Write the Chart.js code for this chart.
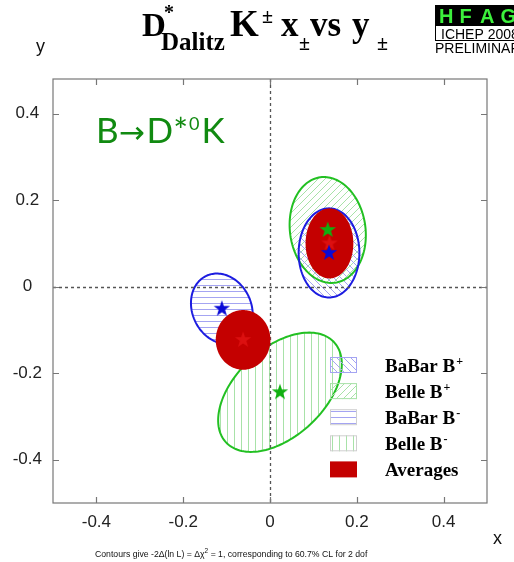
<!DOCTYPE html>
<html>
<head>
<meta charset="utf-8">
<script src="https://cdn.jsdelivr.net/npm/chart.js@4.4.1/dist/chart.umd.min.js"></script>
<style>
  html, body { margin: 0; padding: 0; background: #fff; }
  #wrap { position: relative; width: 514px; height: 562px; }
</style>
</head>
<body>
<div id="wrap"><canvas id="xy-plane" width="514" height="562"></canvas></div>
<script>
'use strict';

// axis ranges and ticks
const xRange = [-0.5, 0.5];
const yRange = [-0.5, 0.48];
const xTickValues = [-0.4, -0.2, 0, 0.2, 0.4];
const yTickValues = [-0.4, -0.2, 0, 0.2, 0.4];

// individual measurements (1-sigma contours): centre, semi-axes, rotation in degrees
const measNames = ['BaBar B+', 'Belle B+', 'BaBar B-', 'Belle B-'];
const measX = [0.136, 0.133, -0.111, 0.023];
const measY = [0.078, 0.131, -0.051, -0.244];
const measA = [0.070, 0.087, 0.068, 0.170];
const measB = [0.103, 0.123, 0.084, 0.102];
const measTilt = [0, 8, 25, 43];

// averages for B+ and B-
const avgX = [0.137, -0.062];
const avgY = [0.100, -0.123];
const avgA = [0.055, 0.063];
const avgB = [0.081, 0.069];
const avgTilt = [0, 0];

// legend rows
const legendLabels = ['BaBar B', 'Belle B', 'BaBar B', 'Belle B', 'Averages'];
const legendSups = ['+', '+', '-', '-', ''];

const BLUE = '#1c1ce0';
const GREEN = '#22c022';
const BLUE_HATCH = '#a4a4f2';
const GREEN_HATCH = '#a8e2a8';
const RED = '#c40000';

// hatch style per measurement
const hatchKind = ['back', 'fwd', 'horiz', 'vert'];
const hatchColor = [BLUE_HATCH, GREEN_HATCH, BLUE_HATCH, GREEN_HATCH];
const lineColor = [BLUE, GREEN, BLUE, GREEN];

function makeHatch(ctx, kind, color) {
    const step = (kind === 'horiz') ? 6 : 7;
    const c = document.createElement('canvas');
    c.width = step; c.height = step;
    const g = c.getContext('2d');
    g.strokeStyle = color;
    g.lineWidth = 1;
    g.beginPath();
    if (kind === 'horiz') {
        g.moveTo(0, 3.5); g.lineTo(step, 3.5);
    } else if (kind === 'vert') {
        g.moveTo(3.5, 0); g.lineTo(3.5, step);
    } else if (kind === 'fwd') {
        g.moveTo(-1, step + 1); g.lineTo(step + 1, -1);
        g.moveTo(-1, 1); g.lineTo(1, -1);
        g.moveTo(step - 1, step + 1); g.lineTo(step + 1, step - 1);
    } else {
        g.moveTo(-1, -1); g.lineTo(step + 1, step + 1);
        g.moveTo(step - 1, -1); g.lineTo(step + 1, 1);
        g.moveTo(-1, step - 1); g.lineTo(1, step + 1);
    }
    g.stroke();
    return ctx.createPattern(c, 'repeat');
}

function makeStar(color) {
    const c = document.createElement('canvas');
    c.width = 20; c.height = 20;
    const g = c.getContext('2d');
    g.fillStyle = color;
    g.beginPath();
    for (let i = 0; i < 10; i++) {
        const r = (i % 2) ? 3.4 : 8.6;
        const ang = -Math.PI / 2 + i * Math.PI / 5;
        const px = 10 + r * Math.cos(ang), py = 10 + r * Math.sin(ang);
        i ? g.lineTo(px, py) : g.moveTo(px, py);
    }
    g.closePath();
    g.fill();
    return c;
}

function ellipsePath(ctx, xs, ys, cx, cy, a, b, deg) {
    const th = deg * Math.PI / 180;
    ctx.beginPath();
    for (let i = 0; i <= 144; i++) {
        const t = i / 144 * 2 * Math.PI;
        const dx = a * Math.cos(t) * Math.cos(th) - b * Math.sin(t) * Math.sin(th);
        const dy = a * Math.cos(t) * Math.sin(th) + b * Math.sin(t) * Math.cos(th);
        const px = xs.getPixelForValue(cx + dx);
        const py = ys.getPixelForValue(cy + dy);
        i ? ctx.lineTo(px, py) : ctx.moveTo(px, py);
    }
    ctx.closePath();
}

function txt(ctx, s, x, y, font, color, align) {
    ctx.font = font;
    ctx.fillStyle = color || '#000';
    ctx.textAlign = align || 'left';
    ctx.textBaseline = 'alphabetic';
    ctx.fillText(s, x, y);
    return x + ctx.measureText(s).width;
}

const contours = {
    id: 'contours',
    beforeDatasetsDraw(chart) {
        const { ctx, chartArea: area, scales: { x, y } } = chart;
        ctx.save();
        ctx.beginPath();
        ctx.rect(area.left, area.top, area.right - area.left, area.bottom - area.top);
        ctx.clip();

        // hatched measurements, B- first
        [3, 2, 1, 0].forEach(i => {
            ellipsePath(ctx, x, y, measX[i], measY[i], measA[i], measB[i], measTilt[i]);
            ctx.fillStyle = makeHatch(ctx, hatchKind[i], hatchColor[i]);
            ctx.fill();
        });
        [3, 2, 1, 0].forEach(i => {
            ellipsePath(ctx, x, y, measX[i], measY[i], measA[i], measB[i], measTilt[i]);
            ctx.strokeStyle = lineColor[i];
            ctx.lineWidth = 2;
            ctx.stroke();
        });

        // dashed zero lines
        ctx.strokeStyle = '#555';
        ctx.lineWidth = 1.3;
        ctx.setLineDash([3, 3]);
        const x0 = Math.round(x.getPixelForValue(0)) + 0.5;
        const y0 = Math.round(y.getPixelForValue(0)) + 0.5;
        ctx.beginPath();
        ctx.moveTo(x0, area.top); ctx.lineTo(x0, area.bottom);
        ctx.moveTo(area.left, y0); ctx.lineTo(area.right, y0);
        ctx.stroke();
        ctx.setLineDash([]);

        // averages
        avgX.forEach((cx, i) => {
            ellipsePath(ctx, x, y, cx, avgY[i], avgA[i], avgB[i], avgTilt[i]);
            ctx.fillStyle = RED;
            ctx.fill();
        });
        ctx.restore();
    },
    afterDraw(chart) {
        const { ctx, chartArea: area, scales: { x, y } } = chart;
        ctx.save();

        // frame with inward ticks
        ctx.strokeStyle = '#777';
        ctx.lineWidth = 1.2;
        ctx.strokeRect(area.left, area.top, area.right - area.left, area.bottom - area.top);
        ctx.beginPath();
        xTickValues.forEach(v => {
            const px = Math.round(x.getPixelForValue(v)) + 0.5;
            ctx.moveTo(px, area.bottom); ctx.lineTo(px, area.bottom - 6);
            ctx.moveTo(px, area.top); ctx.lineTo(px, area.top + 6);
        });
        yTickValues.forEach(v => {
            const py = Math.round(y.getPixelForValue(v)) + 0.5;
            ctx.moveTo(area.left, py); ctx.lineTo(area.left + 6, py);
            ctx.moveTo(area.right, py); ctx.lineTo(area.right - 6, py);
        });
        ctx.stroke();

        // legend
        const boxX = 330, boxW = 27, boxH = 16;
        legendLabels.forEach((label, i) => {
            const top = 357 + i * 26.1;
            if (i < 4) {
                ctx.fillStyle = makeHatch(ctx, hatchKind[i], hatchColor[i]);
                ctx.fillRect(boxX, top, boxW, boxH);
                ctx.strokeStyle = i < 2 ? hatchColor[i] : '#cfcfcf';
                ctx.lineWidth = 1;
                ctx.strokeRect(boxX + 0.5, top + 0.5, boxW - 1, boxH - 1);
            } else {
                ctx.fillStyle = RED;
                ctx.fillRect(boxX, top, boxW, boxH);
            }
            const end = txt(ctx, label, 385, top + 14.5, 'bold 19px "Liberation Serif"', '#000');
            if (legendSups[i]) txt(ctx, legendSups[i], end + 1, top + 8, 'bold 12px "Liberation Serif"', '#000');
        });

        // decay label
        const green = '#118a11';
        let cx = txt(ctx, 'B', 96, 143, '35px Lato', green);
        cx = txt(ctx, '\u2192', cx, 143, '31px "DejaVu Sans"', green);
        cx = txt(ctx, 'D', cx + 2, 143, '35px Lato', green);
        cx = txt(ctx, '*', cx, 143, '35px Lato', green);
        cx = txt(ctx, '0', cx + 1, 130, '18px Lato', green);
        txt(ctx, 'K', cx + 2, 143, '35px Lato', green);

        // title
        const serif = '"Liberation Serif"';
        txt(ctx, 'D', 142, 36, 'bold 33px ' + serif);
        txt(ctx, '*', 164, 19, 'bold 20px ' + serif);
        txt(ctx, 'Dalitz', 161, 50, 'bold 25px ' + serif);
        txt(ctx, 'K', 230, 36, 'bold 37px ' + serif);
        txt(ctx, '\u00b1', 262, 23, 'bold 20px ' + serif);
        txt(ctx, 'x', 281, 36, 'bold 35px ' + serif);
        txt(ctx, '\u00b1', 299, 50, 'bold 20px ' + serif);
        txt(ctx, 'vs', 310, 36, 'bold 35px ' + serif);
        txt(ctx, 'y', 352, 36, 'bold 35px ' + serif);
        txt(ctx, '\u00b1', 377, 50, 'bold 20px ' + serif);

        // HFAG badge
        ctx.fillStyle = '#000';
        ctx.fillRect(435, 5, 90, 20);
        ctx.strokeStyle = '#000';
        ctx.lineWidth = 1;
        ctx.strokeRect(435.5, 25.5, 90, 15);
        ctx.fillStyle = '#3cf03c';
        ctx.font = 'bold 20px "Liberation Sans"';
        ctx.textAlign = 'left';
        ['H', 'F', 'A', 'G'].forEach((ch, k) => ctx.fillText(ch, 439 + k * 20.5, 23));
        txt(ctx, 'ICHEP 2008', 441, 38.5, '14px "Liberation Sans"', '#000');
        txt(ctx, 'PRELIMINARY', 435, 53, '14px "Liberation Sans"', '#000');

        // axis names
        txt(ctx, 'y', 36, 52, '18px "Liberation Sans"', '#111');
        txt(ctx, 'x', 493, 544, '18px "Liberation Sans"', '#111');

        // footnote
        const noteFont = '8.7px "Liberation Sans"';
        let fx = txt(ctx, 'Contours give -2\u0394(ln L) = \u0394\u03c7', 95, 557, noteFont, '#111');
        fx = txt(ctx, '2', fx, 553, '6.5px "Liberation Sans"', '#111');
        txt(ctx, ' = 1, corresponding to 60.7% CL for 2 dof', fx, 557, noteFont, '#111');

        ctx.restore();
    }
};

const starBlue = makeStar('#0a0ad6');
const starGreen = makeStar('#10b010');
const starRed = makeStar('#dc1010');

const babarIdx = [0, 2];
const belleIdx = [1, 3];

const tickFont = { family: 'Liberation Sans', size: 17 };

new Chart(document.getElementById('xy-plane'), {
    type: 'scatter',
    data: {
        datasets: [
            { label: 'BaBar', data: babarIdx.map(i => ({ x: measX[i], y: measY[i] })), pointStyle: starBlue },
            { label: 'Belle', data: belleIdx.map(i => ({ x: measX[i], y: measY[i] })), pointStyle: starGreen },
            { label: 'Average', data: avgX.map((v, i) => ({ x: v, y: avgY[i] })), pointStyle: starRed }
        ]
    },
    options: {
        responsive: false,
        animation: false,
        events: [],
        layout: { padding: { left: 0, right: 27, top: 79, bottom: 19 } },
        plugins: { legend: { display: false }, tooltip: { enabled: false } },
        scales: {
            x: {
                type: 'linear', min: xRange[0], max: xRange[1],
                grid: { display: false, drawTicks: false },
                border: { display: false },
                afterBuildTicks: s => { s.ticks = xTickValues.map(v => ({ value: v })); },
                afterFit: s => { s.height = 40; },
                ticks: { font: tickFont, color: '#222', padding: 9, maxRotation: 0,
                    callback: v => v === 0 ? '0' : v.toFixed(1) }
            },
            y: {
                type: 'linear', min: yRange[0], max: yRange[1],
                grid: { display: false, drawTicks: false },
                border: { display: false },
                afterBuildTicks: s => { s.ticks = yTickValues.map(v => ({ value: v })); },
                afterFit: s => { s.width = 53; },
                ticks: { font: tickFont, color: '#222', padding: 11, crossAlign: 'center',
                    callback: v => v === 0 ? '0' : v.toFixed(1) }
            }
        }
    },
    plugins: [contours]
});
</script>
</body>
</html>
